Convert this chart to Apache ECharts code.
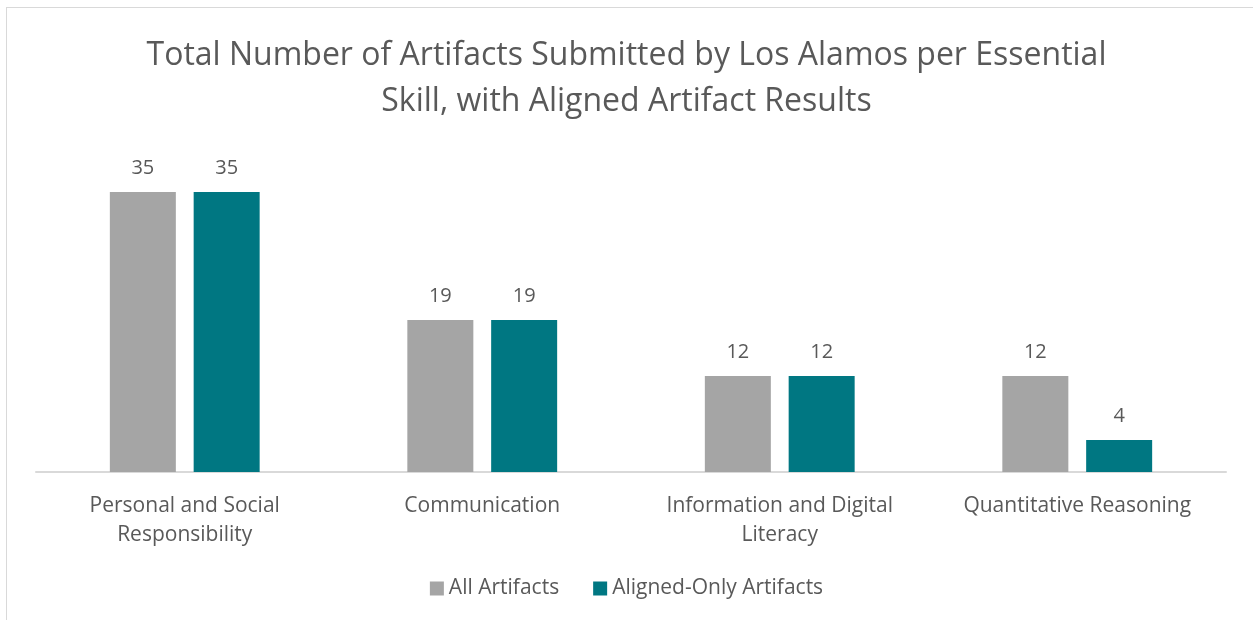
<!DOCTYPE html>
<html>
<head>
<meta charset="utf-8">
<script src="https://cdn.jsdelivr.net/npm/echarts@6/dist/echarts.min.js"></script>
<style>
  html, body { margin: 0; padding: 0; background: #fff; }
  #frame { position: absolute; left: 6px; top: 7px; width: 1260px; height: 630px; border: 1px solid #d9d9d9; box-sizing: border-box; }
  #chart { position: absolute; left: 0; top: 0; width: 1253px; height: 620px; }
</style>
</head>
<body>
<div id="frame"></div>
<div id="chart"></div>
<script>
const categories = ['Personal and Social\nResponsibility', 'Communication', 'Information and Digital\nLiteracy', 'Quantitative Reasoning']
const allArtifacts = [35, 19, 12, 12]
const alignedOnly = [35, 19, 12, 4]
const seriesNames = ['All Artifacts', 'Aligned-Only Artifacts']

const fontFamily = '"Open Sans", "Noto Sans", sans-serif'
const textColor = '#595959'

const chart = echarts.init(document.getElementById('chart'))
chart.setOption({
  animation: false,
  textStyle: { fontFamily: fontFamily },
  title: {
    text: 'Total Number of Artifacts Submitted by Los Alamos per Essential\nSkill, with Aligned Artifact Results',
    left: 'center',
    top: 28,
    textStyle: { color: textColor, fontSize: 32, fontWeight: 'normal', lineHeight: 46, fontFamily: fontFamily }
  },
  legend: {
    bottom: 16,
    left: 'center',
    itemWidth: 14,
    itemHeight: 14,
    itemGap: 34,
    icon: 'rect',
    textStyle: { color: textColor, fontSize: 21, fontFamily: fontFamily },
    data: seriesNames
  },
  grid: { left: 36, right: 27, top: 152, bottom: 148 },
  xAxis: {
    type: 'category',
    data: categories,
    axisLine: { lineStyle: { color: '#d9d9d9', width: 2 } },
    axisTick: { show: false },
    axisLabel: { color: textColor, fontSize: 21, lineHeight: 29, margin: 20, interval: 0 }
  },
  yAxis: {
    type: 'value',
    min: 0,
    max: 40,
    show: false,
    splitLine: { show: false }
  },
  series: [{
    name: seriesNames[0],
    type: 'bar',
    data: allArtifacts,
    barWidth: 66,
    barGap: '27%',
    itemStyle: { color: '#a5a5a5' },
    label: { show: true, position: 'top', distance: 14, color: textColor, fontSize: 20 }
  }, {
    name: seriesNames[1],
    type: 'bar',
    data: alignedOnly,
    barWidth: 66,
    barGap: '27%',
    itemStyle: { color: '#007782' },
    label: { show: true, position: 'top', distance: 14, color: textColor, fontSize: 20 }
  }]
})
</script>
</body>
</html>
